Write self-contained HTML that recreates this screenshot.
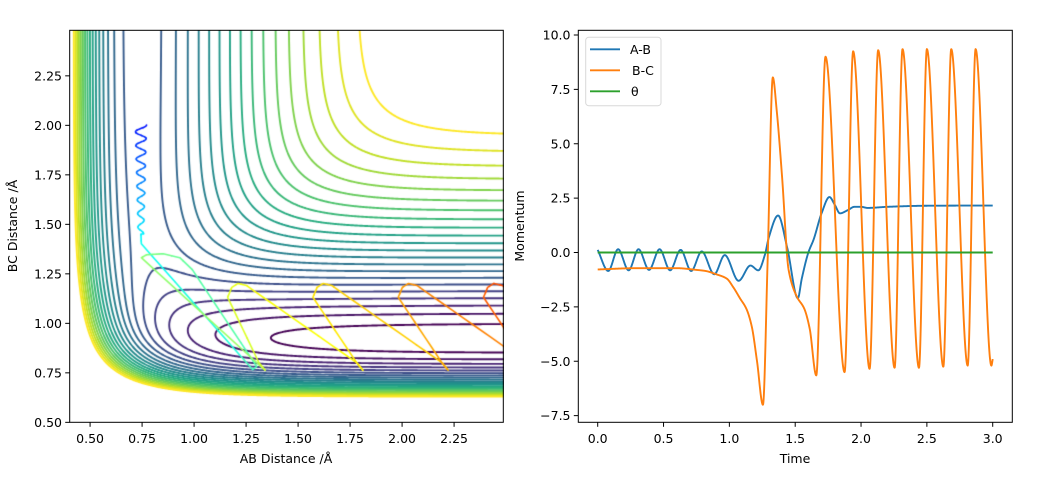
<!DOCTYPE html>
<html><head><meta charset="utf-8">
<style>
html,body{margin:0;padding:0;background:#fff;}
#wrap{position:relative;width:1062px;height:491px;overflow:hidden;background:#fff;}
canvas{position:absolute;}
svg{position:absolute;left:0;top:0;}
text{font-family:"DejaVu Sans","Liberation Sans",sans-serif;font-size:12.5px;fill:#000;}
</style></head>
<body><div id="wrap">
<canvas id="c1" width="434" height="392" style="left:70px;top:30px;"></canvas>
<svg id="s" width="1062" height="491" xmlns="http://www.w3.org/2000/svg">
<defs><clipPath id="cr"><rect x="578.3" y="30.3" width="434" height="392"/></clipPath></defs>
<g id="rplot" clip-path="url(#cr)"></g>
<rect x="69.7" y="30.3" width="433.6" height="392" fill="none" stroke="#000" stroke-width="1"/>
<rect x="578.3" y="30.3" width="434" height="392" fill="none" stroke="#000" stroke-width="1"/>
<g id="ticks"></g>
<text x="286" y="463" text-anchor="middle">AB Distance /Å</text>
<text transform="translate(17,226) rotate(-90)" text-anchor="middle">BC Distance /Å</text>
<text x="795" y="463" text-anchor="middle">Time</text>
<text transform="translate(524,226) rotate(-90)" text-anchor="middle">Momentum</text>
<rect x="585.7" y="37.3" width="75.3" height="68.4" rx="3" fill="#fff" fill-opacity="0.8" stroke="#d8d8d8" stroke-width="1"/>
<line x1="590" y1="49.3" x2="620" y2="49.3" stroke="#1f77b4" stroke-width="1.9"/>
<line x1="590" y1="70.3" x2="620" y2="70.3" stroke="#ff7f0e" stroke-width="1.9"/>
<line x1="590" y1="91.3" x2="620" y2="91.3" stroke="#2ca02c" stroke-width="1.9"/>
<text x="630" y="54">A-B</text>
<text x="632" y="75">B-C</text>
<text x="631" y="96">θ</text>
</svg>
</div>
<script>
(function(){
var NS="http://www.w3.org/2000/svg";
var tk=document.getElementById('ticks');
function el(n,a,t){var e=document.createElementNS(NS,n);for(var k in a)e.setAttribute(k,a[k]);if(t!==undefined)e.textContent=t;tk.appendChild(e);}
var lx=[0.5,0.75,1.0,1.25,1.5,1.75,2.0,2.25];
lx.forEach(function(v){var p=69.7+(v-0.402)*208;el('line',{x1:p,y1:422.3,x2:p,y2:426.8,stroke:'#000','stroke-width':1});el('text',{x:p,y:443,'text-anchor':'middle'},v.toFixed(2));});
lx.forEach(function(v){var p=30.3+(2.48-v)*198;el('line',{x1:69.7,y1:p,x2:65.2,y2:p,stroke:'#000','stroke-width':1});el('text',{x:62,y:p+4.5,'text-anchor':'end'},v.toFixed(2));});
[0,0.5,1,1.5,2,2.5,3].forEach(function(v){var p=597.7+131.67*v;el('line',{x1:p,y1:422.3,x2:p,y2:426.8,stroke:'#000','stroke-width':1});el('text',{x:p,y:443,'text-anchor':'middle'},v.toFixed(1));});
[-7.5,-5,-2.5,0,2.5,5,7.5,10].forEach(function(v){var p=252.5-21.75*v;el('line',{x1:578.3,y1:p,x2:573.8,y2:p,stroke:'#000','stroke-width':1});el('text',{x:570.5,y:p+4.5,'text-anchor':'end'},(v<0?'\u2212':'')+Math.abs(v).toFixed(1));});

function mono(pts){var n=pts.length,xs=pts.map(p=>p[0]),ys=pts.map(p=>p[1]),d=[],m=[];
for(var i=0;i<n-1;i++)d.push((ys[i+1]-ys[i])/(xs[i+1]-xs[i]));
m[0]=d[0];m[n-1]=d[n-2];
for(i=1;i<n-1;i++){if(d[i-1]*d[i]<=0)m[i]=0;else{var w1=2*(xs[i+1]-xs[i])+(xs[i]-xs[i-1]),w2=(xs[i+1]-xs[i])+2*(xs[i]-xs[i-1]);m[i]=(w1+w2)/(w1/d[i-1]+w2/d[i]);}}
return function(x){var i=0;while(i<n-2&&x>xs[i+1])i++;var h=xs[i+1]-xs[i],t=(x-xs[i])/h,t2=t*t,t3=t2*t;
return (2*t3-3*t2+1)*ys[i]+(t3-2*t2+t)*h*m[i]+(-2*t3+3*t2)*ys[i+1]+(t3-t2)*h*m[i+1];};}
var rp=document.getElementById('rplot');
function series(pts,col){var f=mono(pts),s='';for(var t=0;t<=3.0001;t+=0.002){var X=597.7+131.67*t,Y=252.5-21.75*f(t);s+=(s?'L':'M')+X.toFixed(2)+','+Y.toFixed(2);}
var p=document.createElementNS(NS,'path');p.setAttribute('d',s);p.setAttribute('fill','none');p.setAttribute('stroke',col);p.setAttribute('stroke-width','1.9');p.setAttribute('stroke-linejoin','round');rp.appendChild(p);}
var blue=[[0,0.12],[0.08,-0.85],[0.155,0.15],[0.235,-0.82],[0.31,0.15],[0.39,-0.8],[0.47,0.15],[0.55,-0.82],[0.63,0.12],[0.71,-0.85],[0.79,0.05],[0.885,-1.0],[0.965,-0.12],[1.07,-1.3],[1.16,-0.6],[1.22,-0.82],[1.27,-0.1],[1.30,0.7],[1.37,1.7],[1.44,0.2],[1.52,-2.1],[1.55,-1.2],[1.6,0.0],[1.64,0.6],[1.7,1.8],[1.76,2.55],[1.80,2.2],[1.84,1.8],[1.9,1.95],[1.95,2.1],[2.0,2.1],[2.05,2.05],[2.2,2.1],[2.5,2.15],[3.0,2.16]];
var orange=[[0,-0.78],[0.3,-0.72],[0.6,-0.72],[0.75,-0.8],[0.82,-0.85],[0.9,-1.0],[0.98,-1.2],[1.03,-1.6],[1.08,-2.1],[1.13,-2.6],[1.17,-3.4],[1.21,-5.0],[1.255,-7.0],[1.29,-0.5],[1.33,8.05],[1.36,6.5],[1.40,3.5],[1.45,-0.8],[1.51,-2.0],[1.57,-2.6],[1.61,-3.5],[1.66,-5.65],[1.73,9.0],[1.875,-5.5],[1.94,9.25],[2.065,-5.35],[2.13,9.3],[2.255,-5.3],[2.315,9.35],[2.44,-5.3],[2.50,9.35],[2.625,-5.25],[2.685,9.35],[2.81,-5.2],[2.87,9.35],[2.99,-5.2],[3.0,-4.9]];
series(blue,'#1f77b4');
series(orange,'#ff7f0e');
series([[0,0],[3,0]],'#2ca02c');

var S=0.16;
function QJ(r,D,b,re){var e=Math.exp(-b*(r-re)),k=D/(4*(1+S));return [k*((3+S)*e*e-(2+6*S)*e),k*((1+3*S)*e*e-(6+2*S)*e)];}
function V(x,y){var a=QJ(x,4.746,1.942,0.7414),b=QJ(y,6.122,2.219,0.9171),c=QJ(x+y,6.122,2.219,0.9171);
var J1=a[1],J2=b[1],J3=c[1];return a[0]+b[0]+c[0]-Math.sqrt(0.5*((J1-J2)*(J1-J2)+(J2-J3)*(J2-J3)+(J3-J1)*(J3-J1)))+6.122;}
var cv=document.getElementById('c1'),ctx=cv.getContext('2d');
var W=434,H=392;
function px(x){return (x-0.402)*208;} function py(y){return (2.48-y)*198;}
var NX=434,NY=392,g=[];
for(var j=0;j<=NY;j++){g.push([]);for(var i=0;i<=NX;i++){var x=0.402+i*(W/NX)/208,y=2.48-j*(H/NY)/198;g[j].push(V(x,y));}}
var vir=[[68,1,84],[72,36,117],[65,68,135],[53,95,141],[42,120,142],[33,145,140],[34,168,132],[68,191,112],[122,209,81],[189,223,38],[253,231,37]];
function vc(t){t=Math.max(0,Math.min(1,t))*10;var i=Math.min(9,Math.floor(t)),f=t-i,a=vir[i],b=vir[i+1];return 'rgb('+[0,1,2].map(k=>Math.round(a[k]+(b[k]-a[k])*f)).join(',')+')';}
var levels=[];for(var k=21;k>=0;k--)levels.push(4.95-0.228*k);
ctx.lineWidth=1.9;ctx.lineJoin='round';ctx.lineCap='round';
var sx=W/NX,sy=H/NY;
levels.forEach(function(L,li){
 ctx.strokeStyle=vc(li/(levels.length-1));ctx.beginPath();
 for(var j=0;j<NY;j++)for(var i=0;i<NX;i++){
  var a=g[j][i],b=g[j][i+1],c=g[j+1][i+1],d=g[j+1][i];
  var cs=(a>L?8:0)|(b>L?4:0)|(c>L?2:0)|(d>L?1:0);
  if(cs===0||cs===15)continue;
  var X=i*sx,Y=j*sy;
  var T=[X+sx*(L-a)/(b-a),Y],R=[X+sx,Y+sy*(L-b)/(c-b)],B=[X+sx*(L-d)/(c-d),Y+sy],Lf=[X,Y+sy*(L-a)/(d-a)];
  var segs;
  switch(cs){case 1:case 14:segs=[[Lf,B]];break;case 2:case 13:segs=[[B,R]];break;case 3:case 12:segs=[[Lf,R]];break;
  case 4:case 11:segs=[[T,R]];break;case 5:segs=[[Lf,T],[B,R]];break;case 6:case 9:segs=[[T,B]];break;case 7:case 8:segs=[[Lf,T]];break;case 10:segs=[[Lf,B],[T,R]];break;}
  segs.forEach(function(s){ctx.moveTo(s[0][0],s[0][1]);ctx.lineTo(s[1][0],s[1][1]);});
 }
 ctx.stroke();
});
function cl(v){return Math.max(0,Math.min(1,v));}
function jet(s){var r=cl(1.5-Math.abs(4*s-3)),gg=cl(1.5-Math.abs(4*s-2)),b=cl(1.5-Math.abs(4*s-1));return 'rgb('+[r,gg,b].map(v=>Math.round(v*255)).join(',')+')';}
var traj=[];
var wig=[];for(var u=0;u<=1.0001;u+=0.004){wig.push([0.743+0.027*Math.sin(2*Math.PI*8*u+Math.PI/2)*(1-0.5*u),2.0-0.55*u]);}
function add(pts,s0,s1){for(var i=0;i<pts.length;i++)traj.push([pts[i][0],pts[i][1],s0+(s1-s0)*i/Math.max(1,pts.length-1)]);}
add(wig,0.14,0.36);
function lin(a,b,n){var r=[];for(var i=0;i<=n;i++)r.push([a[0]+(b[0]-a[0])*i/n,a[1]+(b[1]-a[1])*i/n]);return r;}
function chain(ps,n){var r=[];for(var i=0;i<ps.length-1;i++){var l=lin(ps[i],ps[i+1],n);if(i>0)l.shift();r=r.concat(l);}return r;}
add(chain([[0.743,1.45],[0.745,1.40],[1.28,0.765]],10),0.36,0.42);
add(chain([[1.28,0.765],[1.30,0.78],[0.99,1.27],[0.93,1.33],[0.85,1.35],[0.77,1.345],[0.745,1.33],[1.31,0.79],[1.34,0.762]],8),0.44,0.54);
function loop(p,top,nx,s0,s1){add(chain([[p,0.762],[p-0.03,0.80],[top-0.05,1.13],[top-0.03,1.18],[top,1.2],[top+0.04,1.19],[top+0.08,1.16],[nx-0.03,0.80],[nx,0.762]],8),s0,s1);}
loop(1.34,1.21,1.81,0.58,0.63);loop(1.81,1.62,2.22,0.64,0.68);loop(2.22,2.03,2.63,0.7,0.76);loop(2.63,2.44,3.04,0.77,0.82);
ctx.lineWidth=1.6;
var CH=6;
for(var i=0;i<traj.length-1;i+=CH){ctx.strokeStyle=jet(traj[Math.min(traj.length-1,i+CH/2|0)][2]);ctx.beginPath();ctx.moveTo(px(traj[i][0]),py(traj[i][1]));
 for(var k2=1;k2<=CH&&i+k2<traj.length;k2++)ctx.lineTo(px(traj[i+k2][0]),py(traj[i+k2][1]));ctx.stroke();}
})();
</script>
</body></html>
